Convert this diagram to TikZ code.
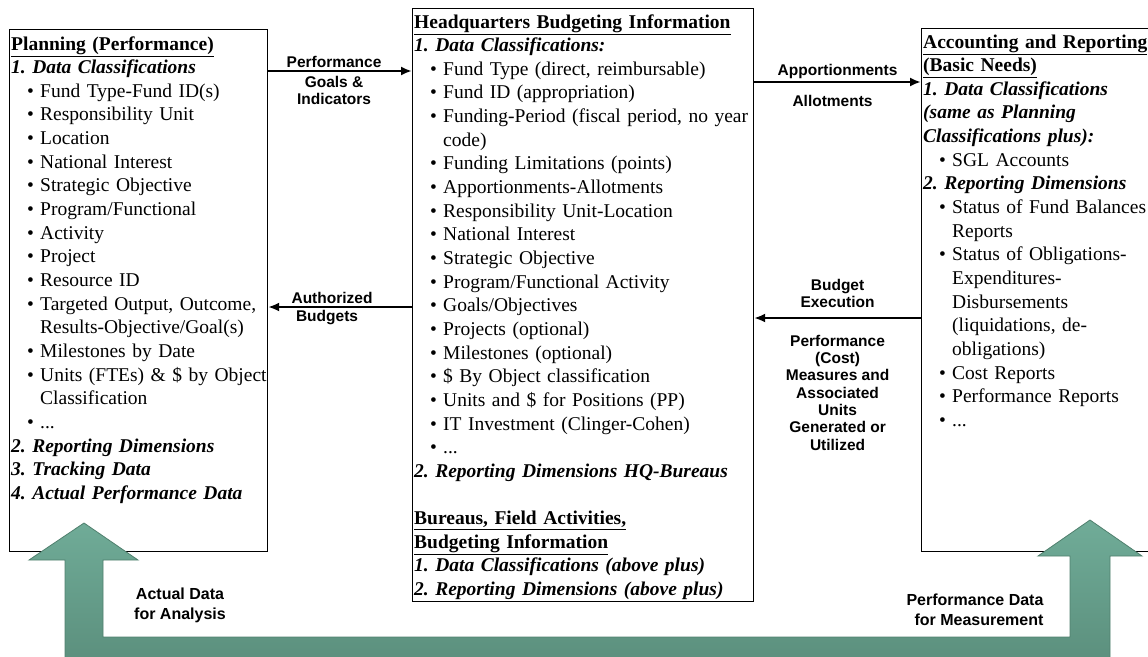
\documentclass[tikz,border=0pt]{standalone}
\usepackage{fontspec}
\setmainfont{Liberation Serif}
\newfontfamily\arialbf{Liberation Sans}
\usetikzlibrary{arrows.meta}
\definecolor{arrowtop}{RGB}{112,172,152}
\definecolor{arrowbot}{RGB}{86,136,118}
\definecolor{arrowline}{RGB}{80,128,110}
\frenchspacing
% bullet line and italic heading inside a panel
\newcommand{\bul}[1]{\par\hangindent=29pt\hangafter=1\hspace*{16pt}\makebox[13pt][l]{\textbullet}#1}
\newcommand{\hd}[1]{\par\textbf{\textit{#1}}}
\newcommand{\ttl}[1]{\underline{\textbf{#1}}}
\tikzset{%
  panel/.style     = {draw, line width=1.1pt, fill=white, rectangle,%
                      inner sep=0pt, anchor=north west},%
  paneltext/.style = {anchor=base west, inner sep=0pt, text width=420pt,%
                      align=left, font=\fontsize{19.5}{23.65}\selectfont,%
                      execute at begin node=\setlength{\parindent}{0pt}},%
  flow/.style      = {line width=2.2pt, -{Latex[length=11pt,width=9pt]}},%
  flowlabel/.style = {font=\arialbf\bfseries\fontsize{15.5}{17.3}\selectfont,%
                      align=center, inner sep=2pt},%
  biglabel/.style  = {font=\arialbf\bfseries\fontsize{16}{20}\selectfont},%
  bigarrow/.style  = {draw=arrowline, line width=0.8pt,%
                      top color=arrowtop, bottom color=arrowbot}%
}
\begin{document}
\begin{tikzpicture}[x=1pt,y=-1pt]
	\useasboundingbox (0,0) rectangle (1148,656);
	\clip (0,0) rectangle (1148,656);
	% the three panels
	\node[panel, minimum width=258pt, minimum height=522pt] (plan) at (9,29) {};
	\node[panel, minimum width=341pt, minimum height=593pt] (hq) at (412,8) {};
	\node[panel, minimum width=260pt, minimum height=523pt] (acct) at (921,28) {};
	\node[paneltext] (plantext) at (11,50) {%
		\ttl{Planning (Performance)}
		\hd{1. Data Classifications}
		\bul{Fund Type-Fund ID(s)}
		\bul{Responsibility Unit}
		\bul{Location}
		\bul{National Interest}
		\bul{Strategic Objective}
		\bul{Program/Functional}
		\bul{Activity}
		\bul{Project}
		\bul{Resource ID}
		\bul{Targeted Output, Outcome,\newline Results-Objective/Goal(s)}
		\bul{Milestones by Date}
		\bul{Units (FTEs) \& \$ by Object\newline Classification}
		\bul{...}
		\hd{2. Reporting Dimensions}
		\hd{3. Tracking Data}
		\hd{4. Actual Performance Data}};
	\node[paneltext] (hqtext) at (414,28) {%
		\ttl{Headquarters Budgeting Information}
		\hd{1. Data Classifications:}
		\bul{Fund Type (direct, reimbursable)}
		\bul{Fund ID (appropriation)}
		\bul{Funding-Period (fiscal period, no year\newline code)}
		\bul{Funding Limitations (points)}
		\bul{Apportionments-Allotments}
		\bul{Responsibility Unit-Location}
		\bul{National Interest}
		\bul{Strategic Objective}
		\bul{Program/Functional Activity}
		\bul{Goals/Objectives}
		\bul{Projects (optional)}
		\bul{Milestones (optional)}
		\bul{\$ By Object classification}
		\bul{Units and \$ for Positions (PP)}
		\bul{IT Investment (Clinger-Cohen)}
		\bul{...}
		\hd{2. Reporting Dimensions HQ-Bureaus}
		\par\mbox{}
		\par\ttl{Bureaus, Field Activities,}
		\par\ttl{Budgeting Information}
		\hd{1. Data Classifications (above plus)}
		\hd{2. Reporting Dimensions (above plus)}};
	\node[paneltext] (accttext) at (923,48) {%
		\ttl{Accounting and Reporting}
		\par\ttl{(Basic Needs)}
		\hd{1. Data Classifications}
		\hd{(same as Planning}
		\hd{Classifications plus):}
		\bul{SGL Accounts}
		\hd{2. Reporting Dimensions}
		\bul{Status of Fund Balances\newline Reports}
		\bul{Status of Obligations-\newline Expenditures-\newline Disbursements\newline (liquidations, de-\newline obligations)}
		\bul{Cost Reports}
		\bul{Performance Reports}
		\bul{...}};
	% flows between the panels
	\coordinate (goalsrow) at (0,71);
	\coordinate (budgetrow) at (0,307);
	\coordinate (apprrow) at (0,82);
	\coordinate (execrow) at (0,318);
	\draw[flow] (plan.east |- goalsrow) -- node[flowlabel, above, xshift=-6pt] {Performance}
		node[flowlabel, below, xshift=-6pt, inner sep=4pt] {Goals \&\\Indicators} (hq.west |- goalsrow);
	\draw[flow] (hq.west |- budgetrow) -- node[flowlabel, above, xshift=-8pt] {Authorized}
		node[flowlabel, below, xshift=-13pt] {Budgets} (plan.east |- budgetrow);
	\draw[flow] (hq.east |- apprrow) -- node[flowlabel, above, inner sep=2pt] {Apportionments}
		node[flowlabel, below, inner sep=12pt, xshift=-5pt] {Allotments} (acct.west |- apprrow);
	\draw[flow] (acct.west |- execrow) -- node[flowlabel, above, inner sep=9pt] {Budget\\Execution}
		node[flowlabel, below, inner sep=16pt] {Performance\\(Cost)\\Measures and\\Associated\\Units\\Generated or\\Utilized} (hq.east |- execrow);
	% big feedback arrow along the bottom
	\path[bigarrow] (65,700) -- (65,560) -- (29,560) -- (84,523) -- (138,560) -- (103,560)
		-- (103,637) -- (1070,637) -- (1070,556) -- (1038,556) -- (1090,520) -- (1142,556)
		-- (1110,556) -- (1110,700) -- cycle;
	\node[biglabel, align=center] (analysis) at (180,605) {Actual Data\\ for Analysis};
	\node[biglabel, align=right, anchor=east] (measure) at (1047,610) {Performance Data\\for Measurement};
\end{tikzpicture}
\end{document}
